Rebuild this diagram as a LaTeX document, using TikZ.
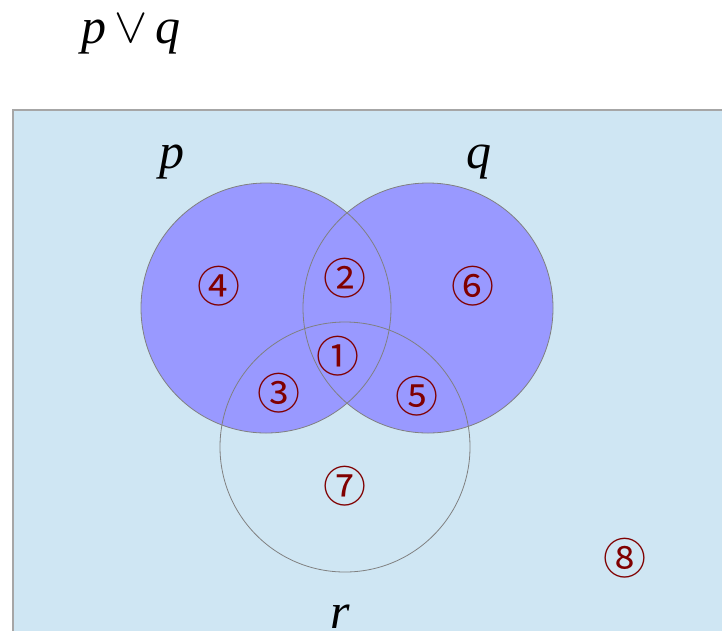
\documentclass[tikz,border=0pt]{standalone}
\usepackage{fontspec}
\usepackage{graphicx}
\setmainfont{Liberation Serif}
\newfontfamily\numfont{Noto Sans CJK SC}
\definecolor{bgblue}{RGB}{207,230,243}
\definecolor{setblue}{RGB}{153,153,255}
\definecolor{numred}{RGB}{128,0,0}
\tikzset{
  setcirc/.style={draw=gray, line width=0.8pt},
  num/.style={text=numred, font=\numfont\fontsize{43}{43}\selectfont, inner sep=0pt},
  lbl/.style={font=\itshape\fontsize{50}{50}\selectfont, inner sep=0pt}
}
\begin{document}
\begin{tikzpicture}[x=1pt,y=-1pt]
\useasboundingbox (0,0) rectangle (722,630);
\begin{scope}
\clip (0,0) rectangle (722,630);
\fill[bgblue] (13,110) rectangle (740,650);
\draw[gray!70, line width=1.5pt] (13,650) -- (13,110) -- (740,110);
\fill[setblue] (266,308) circle (125);
\fill[setblue] (428,308) circle (125);
\draw[setcirc] (266,308) circle (125);
\draw[setcirc] (428,308) circle (125);
\draw[setcirc] (345,447) circle (125);
\node[lbl] (title) at (131,34) {p\,\raisebox{1pt}{\scalebox{2.0}{$\vee$}}\,q};
\node[lbl] (lp) at (172,162) {p};
\node[lbl] (lq) at (479,162) {q};
\node[lbl] (lr) at (340,617) {r};
\node[num] (n1) at (338,356) {①};
\node[num] (n2) at (345,278) {②};
\node[num] (n3) at (279,393) {③};
\node[num] (n4) at (219,286) {④};
\node[num] (n5) at (417,396) {⑤};
\node[num] (n6) at (473,286) {⑥};
\node[num] (n7) at (345,486) {⑦};
\node[num] (n8) at (625,558) {⑧};
\end{scope}
\end{tikzpicture}
\end{document}
